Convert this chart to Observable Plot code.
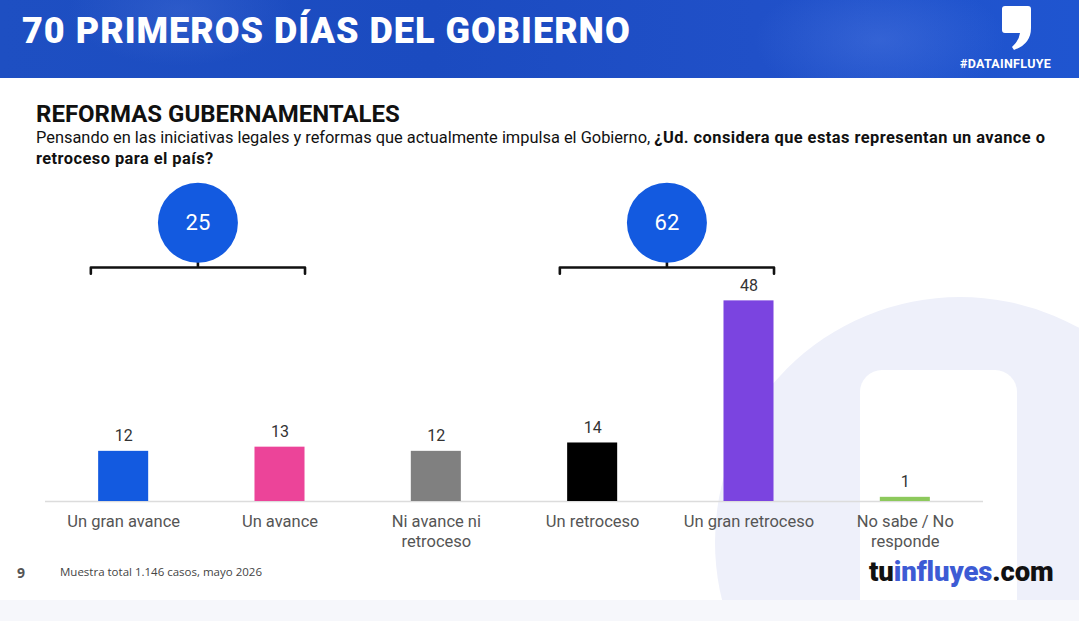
<!DOCTYPE html>
<html><head><meta charset="utf-8">
<script src="https://cdn.jsdelivr.net/npm/d3@7"></script>
<script src="https://cdn.jsdelivr.net/npm/@observablehq/plot@0.6"></script>
<style>
html,body{margin:0;padding:0;background:#fff;}
body{width:1079px;height:621px;position:relative;overflow:hidden;font-family:Roboto,"Noto Sans",sans-serif;}
#header{position:absolute;left:0;top:0;width:1079px;height:78px;
 background:radial-gradient(ellipse 180px 90px at 880px 40px, rgba(90,130,230,0.35), rgba(0,0,0,0) 70%),
 radial-gradient(ellipse 160px 80px at 180px 10px, rgba(80,120,220,0.3), rgba(0,0,0,0) 70%),
 linear-gradient(90deg,#1e4fc2 0%,#1b4bc0 40%,#2050c8 70%,#1f55d0 100%);}
#title{position:absolute;left:22px;top:10px;color:#fff;font-weight:900;font-size:36px;letter-spacing:1px;white-space:nowrap;}
#tag{position:absolute;left:960px;top:56px;color:#fff;font-weight:700;font-size:12.5px;letter-spacing:0.3px;}
#comma{position:absolute;left:1000px;top:4px;}
#bgshape{position:absolute;left:715px;top:297px;width:490px;height:490px;border-radius:50%;background:#eef0fa;}
#bginner{position:absolute;left:860px;top:370px;width:157px;height:300px;border-radius:22px;background:#fff;}
#bottomband{position:absolute;left:0;top:600px;width:1079px;height:21px;background:#f6f7fb;}
#sub{position:absolute;left:36px;top:100px;font-weight:700;font-size:24px;color:#111;white-space:nowrap;}
#q{position:absolute;left:36px;top:127px;font-size:16.4px;line-height:21px;color:#111;white-space:nowrap;}
#q b{letter-spacing:0.45px;}
#chart{position:absolute;left:0;top:180px;}
#pg{position:absolute;left:17px;top:563px;font-weight:700;font-size:14px;color:#555;font-family:"Open Sans",sans-serif;}
#note{position:absolute;left:60px;top:564px;font-size:11.5px;color:#444;font-family:"Open Sans",sans-serif;}
#logo{position:absolute;left:869px;top:555px;font-weight:900;font-size:27.5px;letter-spacing:-0.1px;color:#111;font-family:Roboto,sans-serif;}
#logo span{color:#3d5bd4;}
</style></head>
<body>
<div id="header">
 <div id="title">70 PRIMEROS DÍAS DEL GOBIERNO</div>
 <svg id="comma" width="34" height="48" viewBox="0 0 34 48"><path d="M5 2 H28 Q31 2 31 5 V24 Q31 40 14 46 L12 43 Q19 37 20 29 H5 Q2 29 2 26 V5 Q2 2 5 2 Z" fill="#fff"/></svg>
 <div id="tag">#DATAINFLUYE</div>
</div>
<div id="bgshape"></div>
<div id="bginner"></div>
<div id="bottomband"></div>
<div id="sub">REFORMAS GUBERNAMENTALES</div>
<div id="q">Pensando en las iniciativas legales y reformas que actualmente impulsa el Gobierno, <b>¿Ud. considera que estas representan un avance o</b><br><b>retroceso para el país?</b></div>
<div id="chart"></div>
<div id="pg">9</div>
<div id="note">Muestra total 1.146 casos, mayo 2026</div>
<div id="logo">tu<span>influyes</span>.com</div>
<script>
// ---- data ----
const categories = ["Un gran avance", "Un avance", "Ni avance ni\nretroceso", "Un retroceso", "Un gran retroceso", "No sabe / No\nresponde"];
const values = [12, 13, 12, 14, 48, 1];
const colors = ["#135ae0", "#ec4499", "#808080", "#000000", "#7b44e0", "#8dc95c"];
const groupTotals = [25, 62];
const groupFirst = [0, 3];
const groupLast = [1, 4];

// ---- derived tables ----
const bars = categories.map((c, i) => ({i, c, v: values[i], color: colors[i]}));
const halfBar = 0.16;
const bracketY = 56, bracketEndY = 54.5, bracketTickY = 57.3, circleY = 66.7;
const brackets = [];
const ticks = [];
const circles = groupTotals.map((t, g) => {
  const x1 = groupFirst[g] - 0.21, x2 = groupLast[g] + halfBar;
  brackets.push({g, x: x1, y: bracketEndY}, {g, x: x1, y: bracketY}, {g, x: x2, y: bracketY}, {g, x: x2, y: bracketEndY});
  const xm = (x1 + x2) / 2;
  ticks.push({x: xm, y1: bracketY, y2: bracketTickY});
  return {t, x: xm};
});

const chart = Plot.plot({
  width: 1079, height: 380,
  marginLeft: 45, marginRight: 96, marginTop: 0, marginBottom: 59,
  style: {background: "transparent", fontFamily: "Roboto, sans-serif"},
  x: {domain: [-0.5, categories.length - 0.5], axis: null},
  y: {domain: [0, 76.8], axis: null},
  marks: [
    Plot.ruleY([0], {stroke: "#dcdcdc", strokeWidth: 1.5}),
    Plot.rectY(bars, {x1: d => d.i - halfBar, x2: d => d.i + halfBar, y1: 0, y2: "v", fill: "color"}),
    Plot.text(bars, {x: "i", y: "v", text: d => String(d.v), dy: -15, fontSize: 16, fill: "#333"}),
    Plot.axisX({ticks: d3.range(categories.length), tickFormat: i => categories[i], tickSize: 0, tickPadding: 12, fontSize: 16.5, color: "#555", lineHeight: 1.18}),
    Plot.line(brackets, {x: "x", y: "y", z: "g", stroke: "#111", strokeWidth: 2.6, strokeLinejoin: "round"}),
    Plot.link(ticks, {x1: "x", x2: "x", y1: "y1", y2: "y2", stroke: "#111", strokeWidth: 2.6}),
    Plot.dot(circles, {x: "x", y: circleY, r: 40, fill: "#135ae0"}),
    Plot.text(circles, {x: "x", y: circleY, text: d => String(d.t), fill: "#fff", fontSize: 22})
  ]
});
document.getElementById("chart").appendChild(chart);
</script>
</body></html>
